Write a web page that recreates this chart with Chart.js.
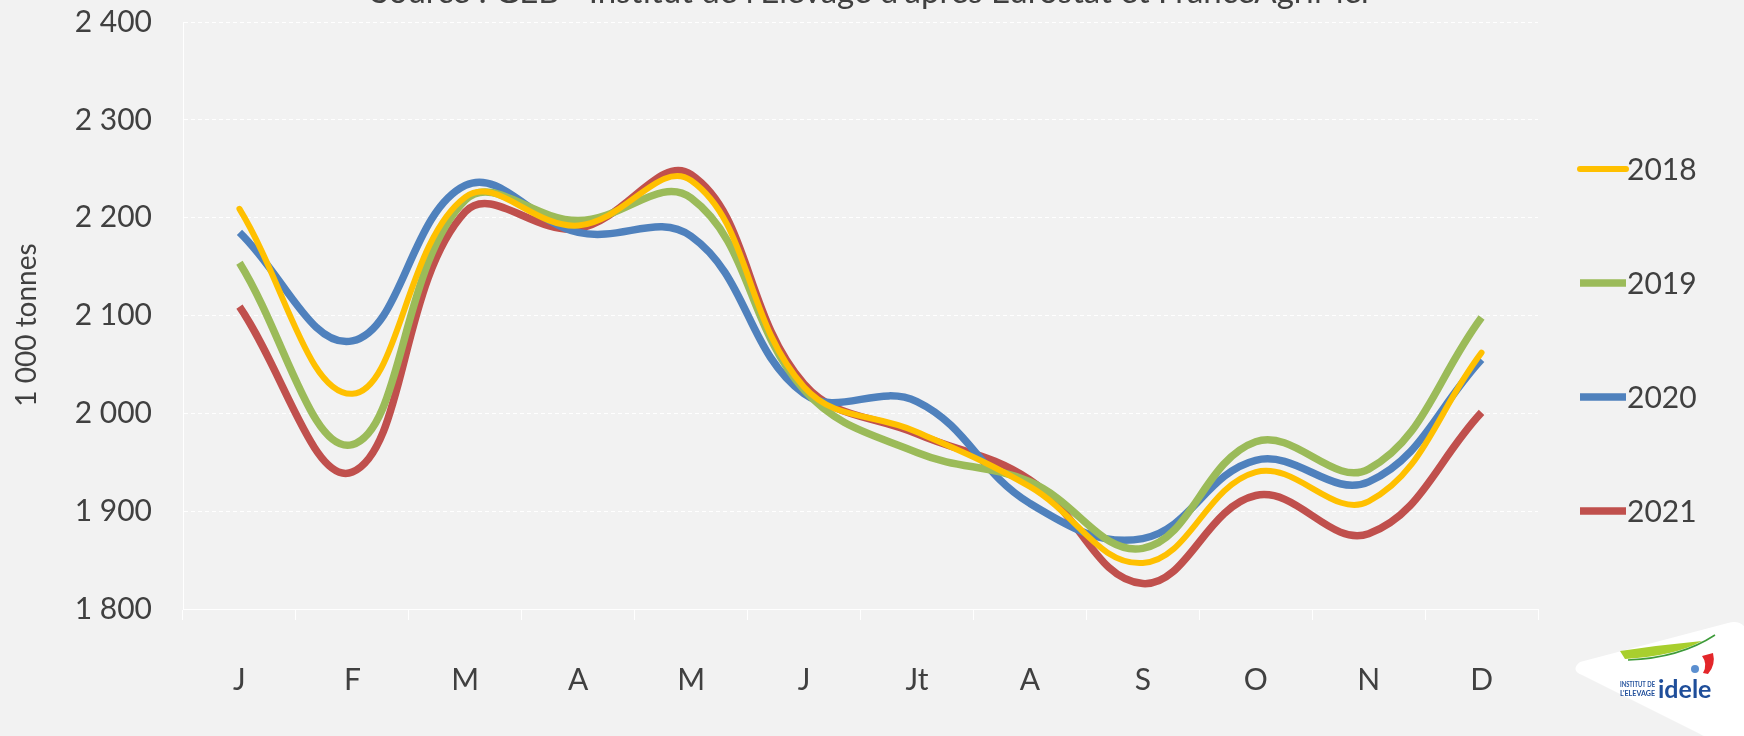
<!DOCTYPE html>
<html>
<head>
<meta charset="utf-8">
<script src="https://cdn.jsdelivr.net/npm/chart.js@4/dist/chart.umd.min.js"></script>
<style>
  html, body { margin: 0; padding: 0; background: #F2F2F2; }
  #wrap { width: 1744px; height: 736px; }
</style>
</head>
<body>
<div id="wrap"><canvas id="lait"></canvas></div>
<script>
var months = ['J', 'F', 'M', 'A', 'M', 'J', 'Jt', 'A', 'S', 'O', 'N', 'D'];
var years = ['2018', '2019', '2020', '2021'];
var v2018 = [2209, 2020, 2221, 2192, 2238, 2027, 1981, 1925, 1847, 1940, 1910, 2062];
var v2019 = [2154, 1968, 2218, 2197, 2220, 2024, 1960, 1930, 1862, 1971, 1943, 2098];
var v2020 = [2185, 2074, 2233, 2185, 2181, 2020, 2012, 1908, 1872, 1952, 1930, 2055];
var v2021 = [2109, 1940, 2206, 2189, 2244, 2030, 1979, 1932, 1826, 1916, 1877, 2001];
var yTicks = [1800, 1900, 2000, 2100, 2200, 2300, 2400];

var colors = ['#FFC000', '#9BBB59', '#4F81BD', '#C0504D'];
var widths = [6, 7.5, 7.5, 7.5];
var txt = '#404040';
var font = 'Lato, "Open Sans", sans-serif';

function fmt(v) {
    return String(v).replace(/\B(?=(\d{3})+(?!\d))/g, ' ');
}

var bg = {
    id: 'bg',
    beforeDraw: function (chart) {
        var c = chart.ctx;
        c.save();
        c.fillStyle = '#F2F2F2';
        c.fillRect(0, 0, chart.width, chart.height);
        c.restore();
    }
};

// source line (cut by the top edge), y title, legend at right, logo
var extras = {
    id: 'extras',
    afterDraw: function (chart) {
        var c = chart.ctx;
        c.save();
        c.fillStyle = txt;
        c.font = '33px ' + font;
        c.textAlign = 'center';
        c.textBaseline = 'alphabetic';
        c.fillText("Source : GEB - Institut de l'Elevage d'après Eurostat et FranceAgriMer", 872, 3);

        c.save();
        c.translate(27, 325);
        c.rotate(-Math.PI / 2);
        c.textBaseline = 'middle';
        c.font = '28px ' + font;
        c.fillText('1 000 tonnes', 0, 0);
        c.restore();

        // legend
        c.textAlign = 'left';
        c.textBaseline = 'middle';
        c.font = '30px ' + font;
        chart.data.datasets.forEach(function (ds, i) {
            var y = 169 + i * 114;
            c.strokeStyle = ds.borderColor;
            c.lineWidth = ds.borderWidth;
            c.lineCap = i === 0 ? 'round' : 'butt';
            c.beginPath();
            c.moveTo(1580, y);
            c.lineTo(1626, y);
            c.stroke();
            c.fillStyle = txt;
            c.fillText(ds.label, 1627, y + 1);
        });

        // logo
        c.fillStyle = '#FFFFFF';
        c.beginPath();
        c.moveTo(1580, 662);
        c.quadraticCurveTo(1570, 670, 1582, 675);
        c.lineTo(1700, 734);
        c.quadraticCurveTo(1706, 738, 1712, 736);
        c.lineTo(1744, 736);
        c.lineTo(1744, 626);
        c.quadraticCurveTo(1738, 620, 1728, 623);
        c.closePath();
        c.fill();

        c.fillStyle = '#A8CF2E';
        c.beginPath();
        c.moveTo(1620, 651);
        c.quadraticCurveTo(1660, 645, 1702, 641);
        c.quadraticCurveTo(1675, 656, 1625, 659);
        c.closePath();
        c.fill();
        c.strokeStyle = '#3E9B3A';
        c.lineWidth = 1.5;
        c.beginPath();
        c.moveTo(1628, 660);
        c.quadraticCurveTo(1680, 658, 1715, 635);
        c.stroke();
        c.fillStyle = '#E3262A';
        c.beginPath();
        c.moveTo(1702, 656);
        c.lineTo(1713, 653);
        c.quadraticCurveTo(1716, 665, 1708, 674);
        c.lineTo(1703, 673);
        c.quadraticCurveTo(1708, 664, 1702, 656);
        c.fill();
        c.fillStyle = '#5B8FD0';
        c.beginPath();
        c.arc(1695, 669, 4, 0, Math.PI * 2);
        c.fill();

        c.fillStyle = '#1F4E9A';
        c.textBaseline = 'alphabetic';
        c.font = 'bold 8px ' + font;
        c.fillText('INSTITUT DE', 1620, 687, 35);
        c.fillText("L'ELEVAGE", 1620, 696, 35);
        c.font = 'bold 25px ' + font;
        c.fillText('idele', 1658, 698);
        c.restore();
    }
};

var ctx = document.getElementById('lait').getContext('2d');
var myChart = new Chart(ctx, {
    type: 'line',
    data: {
        labels: months,
        datasets: [v2018, v2019, v2020, v2021].map(function (vals, i) {
            return {
                label: years[i],
                data: vals,
                borderColor: colors[i],
                backgroundColor: colors[i],
                borderWidth: widths[i],
                borderCapStyle: i === 0 ? 'round' : 'butt',
                tension: 0.4,
                pointRadius: 0,
                fill: false
            };
        })
    },
    options: {
        responsive: true,
        maintainAspectRatio: false,
        animation: false,
        layout: { padding: { top: 22, right: 206, left: 0, bottom: 0 } },
        plugins: {
            legend: { display: false },
            tooltip: { enabled: false }
        },
        scales: {
            x: {
                offset: true,
                grid: {
                    display: true,
                    offset: true,
                    drawOnChartArea: false,
                    color: '#FFFFFF',
                    tickLength: 11
                },
                border: { color: '#FFFFFF', width: 1 },
                ticks: {
                    color: txt,
                    font: { family: font, size: 30 },
                    padding: 42,
                    maxRotation: 0
                },
                afterFit: function (s) { s.height = 127; s.paddingLeft = 0; s.paddingRight = 0; }
            },
            y: {
                min: yTicks[0],
                max: yTicks[yTicks.length - 1],
                afterBuildTicks: function (s) {
                    s.ticks = yTicks.map(function (v) { return { value: v }; });
                },
                grid: { color: '#FFFFFF', drawTicks: false },
                border: { color: '#FFFFFF', width: 1, dash: [4, 3] },
                ticks: {
                    color: txt,
                    font: { family: font, size: 30 },
                    padding: 31,
                    callback: function (v) { return fmt(v); }
                },
                afterFit: function (s) { s.width = 183; s.paddingTop = 0; s.paddingBottom = 0; }
            }
        }
    },
    plugins: [bg, extras]
});
</script>
</body>
</html>
